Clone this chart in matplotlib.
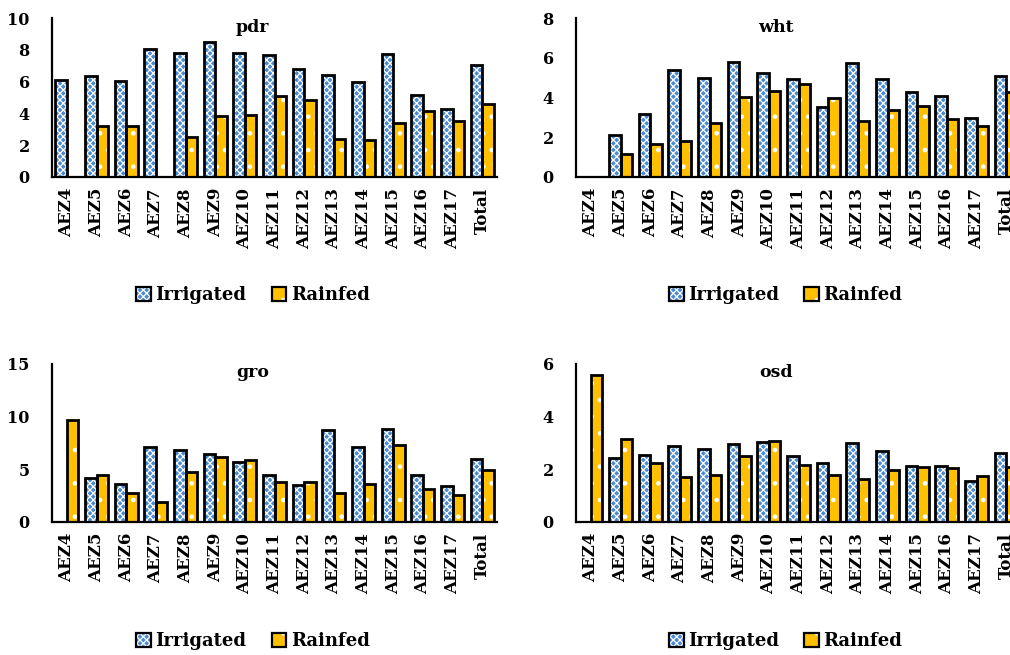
import numpy as np
import matplotlib.pyplot as plt
from matplotlib.patches import Patch
from matplotlib.legend_handler import HandlerTuple

plt.rcParams['font.family'] = 'DejaVu Serif'
plt.rcParams['font.weight'] = 'bold'
plt.rcParams['hatch.linewidth'] = 0.9

cats = ['AEZ4', 'AEZ5', 'AEZ6', 'AEZ7', 'AEZ8', 'AEZ9', 'AEZ10', 'AEZ11',
        'AEZ12', 'AEZ13', 'AEZ14', 'AEZ15', 'AEZ16', 'AEZ17', 'Total']

pdr_irr = [6.13, 6.38, 6.03, 8.03, 7.78, 8.46, 7.82, 7.65, 6.81, 6.43, 5.96, 7.72, 5.18, 4.29, 7.02]
pdr_rain = [0, 3.21, 3.21, 0, 2.49, 3.81, 3.91, 5.07, 4.86, 2.41, 2.33, 3.42, 4.12, 3.53, 4.59]

wht_irr = [0, 2.11, 3.16, 5.36, 4.99, 5.79, 5.21, 4.94, 3.52, 5.72, 4.94, 4.28, 4.06, 2.98, 5.08]
wht_rain = [0, 1.18, 1.66, 1.81, 2.74, 4.01, 4.35, 4.67, 3.96, 2.81, 3.35, 3.59, 2.91, 2.57, 4.28]

gro_irr = [0, 4.15, 3.61, 7.09, 6.80, 6.46, 5.66, 4.49, 3.48, 8.77, 7.09, 8.80, 4.46, 3.39, 5.95]
gro_rain = [9.65, 4.43, 2.78, 1.93, 4.72, 6.20, 5.89, 3.83, 3.77, 2.72, 3.64, 7.34, 3.10, 2.59, 4.94]

osd_irr = [0, 2.42, 2.54, 2.90, 2.76, 2.95, 3.04, 2.52, 2.24, 3.01, 2.68, 2.11, 2.11, 1.57, 2.61]
osd_rain = [5.59, 3.16, 2.24, 1.72, 1.78, 2.52, 3.08, 2.15, 1.80, 1.63, 1.96, 2.09, 2.04, 1.76, 2.09]

BLUE = '#4A8BD0'
GOLD = '#FFC000'
IRR_HATCH = 'xxxxx'
RAIN_HATCH = '.'

fig = plt.figure(figsize=(10.1, 6.55), dpi=100)

# name, irrigated, rainfed, ymax, ystep, axes rect, legend centre
panels = [
    ('pdr', pdr_irr, pdr_rain, 10, 2, [0.0515, 0.7298, 0.4406, 0.2427], (0.2505, 0.5496)),
    ('wht', wht_irr, wht_rain, 8, 2, [0.5703, 0.7298, 0.4406, 0.2427], (0.778, 0.5496)),
    ('gro', gro_irr, gro_rain, 15, 5, [0.0515, 0.2031, 0.4406, 0.2412], (0.2505, 0.0214)),
    ('osd', osd_irr, osd_rain, 6, 2, [0.5703, 0.2031, 0.4406, 0.2412], (0.778, 0.0214)),
]

w = 0.39
x = np.arange(len(cats))

for name, irr, rain, ymax, ystep, rect, legpos in panels:
    ax = fig.add_axes(rect)
    # patterned fill first, black outline on top
    ax.bar(x - w, irr, w, align='edge', color=BLUE, edgecolor='white',
           hatch=IRR_HATCH, linewidth=0)
    ax.bar(x, rain, w, align='edge', color=GOLD, edgecolor='white',
           hatch=RAIN_HATCH, linewidth=0)
    for xs, vals in ((x - w, irr), (x, rain)):
        v = np.array(vals)
        keep = v > 0
        ax.bar(xs[keep], v[keep], w, align='edge', facecolor='none',
               edgecolor='black', linewidth=2.0)

    ax.set_xlim(-0.5, len(cats) - 0.5)
    ax.set_ylim(0, ymax)
    ax.set_yticks(np.arange(0, ymax + 0.1, ystep))
    ax.set_xticks(x)
    ax.set_xticklabels(cats, rotation=90)
    ax.tick_params(axis='both', length=0)
    ax.tick_params(axis='y', pad=16, labelsize=11.5)
    ax.tick_params(axis='x', pad=8, labelsize=12)
    for s in ('top', 'right'):
        ax.spines[s].set_visible(False)
    for s in ('left', 'bottom'):
        ax.spines[s].set_linewidth(1.6)
    ax.text(0.45, 0.943, name, transform=ax.transAxes, ha='center',
            va='center', fontsize=12.5, fontweight='bold')

    h_irr = (Patch(facecolor=BLUE, edgecolor='white', hatch=IRR_HATCH, linewidth=0),
             Patch(facecolor='none', edgecolor='black', linewidth=1.6))
    h_rain = (Patch(facecolor=GOLD, edgecolor='white', hatch=RAIN_HATCH, linewidth=0),
              Patch(facecolor='none', edgecolor='black', linewidth=1.6))
    fig.legend([h_irr, h_rain], ['Irrigated', 'Rainfed'],
               handler_map={tuple: HandlerTuple(ndivide=1, pad=0)},
               loc='center', bbox_to_anchor=legpos, ncol=2, frameon=False,
               fontsize=13, handlelength=0.8, handleheight=0.8,
               handletextpad=0.25, columnspacing=1.4)

fig.savefig('out.png', dpi=100)
